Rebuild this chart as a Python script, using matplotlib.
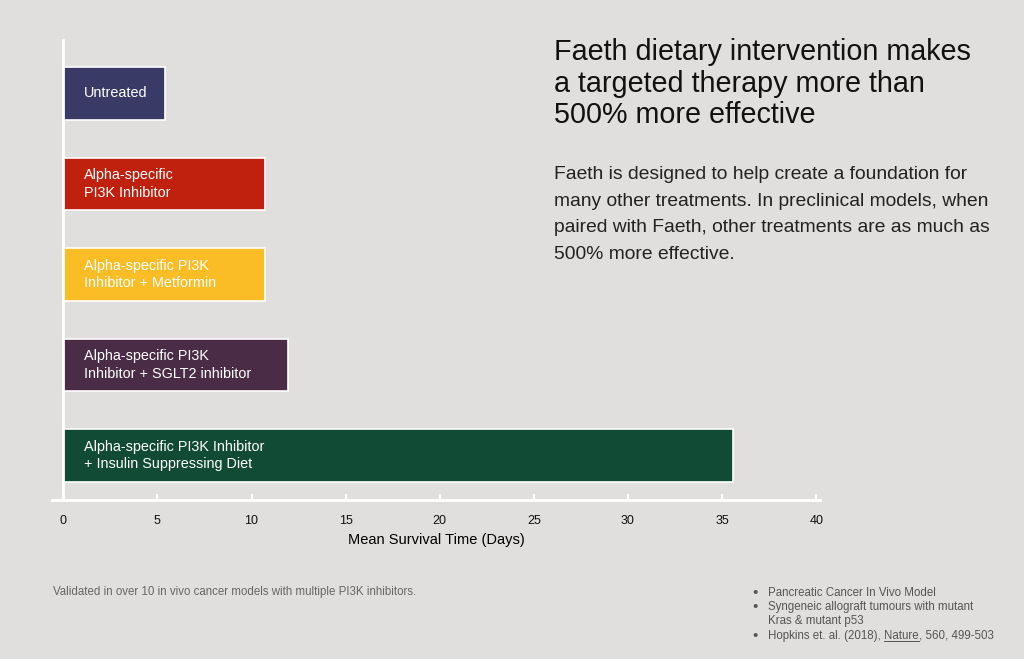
import matplotlib.pyplot as plt

plt.rcParams['font.family'] = ['Liberation Sans', 'DejaVu Sans']

# data
labels = ['Untreated',
          'Alpha-specific\nPI3K Inhibitor',
          'Alpha-specific PI3K\nInhibitor + Metformin',
          'Alpha-specific PI3K\nInhibitor + SGLT2 inhibitor',
          'Alpha-specific PI3K Inhibitor\n+ Insulin Suppressing Diet']
days = [5.4, 10.7, 10.7, 11.95, 35.6]
colors = ['#3a3a66', '#c0200e', '#fbbd26', '#4a2c46', '#114a35']
xticks = [0, 5, 10, 15, 20, 25, 30, 35, 40]

bg = '#e0dfdd'
fig = plt.figure(figsize=(10.24, 6.59), dpi=100, facecolor=bg)
ax = fig.add_axes([52/1024, 1-500/659, (820-52)/1024, 460/659])
ax.set_facecolor(bg)

ypos = list(range(len(days)-1, -1, -1))
ax.barh(ypos, days, height=0.58, color=colors, edgecolor='white', linewidth=1.2)
for y, lab in zip(ypos, labels):
    ax.text(1.1, y, lab, color='white', fontsize=10.4, va='center', ha='left',
            linespacing=1.3)

ax.set_xlim(-0.6, 40.2)
ax.set_ylim(-0.49, 4.59)
ax.spines['left'].set_position(('data', 0))
for s in ['top', 'right']:
    ax.spines[s].set_visible(False)
ax.spines['left'].set_color('white')
ax.spines['bottom'].set_color('white')
ax.spines['left'].set_linewidth(2)
ax.spines['bottom'].set_linewidth(2)
ax.set_yticks([])
ax.set_xticks(xticks)
ax.tick_params(axis='x', direction='in', color='white', width=1.5, length=4,
               labelsize=9, pad=11, labelcolor='#111111')
ax.set_xlabel('Mean Survival Time (Days)', fontsize=10.5, labelpad=4)

fig.text(554/1024, 1-38/659,
         'Faeth dietary intervention makes\na targeted therapy more than\n500% more effective',
         fontsize=20.7, va='top', ha='left', color='#111111', linespacing=1.17)
fig.text(554/1024, 1-166/659,
         'Faeth is designed to help create a foundation for\n'
         'many other treatments. In preclinical models, when\n'
         'paired with Faeth, other treatments are as much as\n'
         '500% more effective.',
         fontsize=13.9, va='top', ha='left', color='#222222', linespacing=1.75)

fig.text(53/1024, 1-592/659,
         'Validated in over 10 in vivo cancer models with multiple PI3K inhibitors.',
         fontsize=8.3, va='center', ha='left', color='#666666')

fs = 8.3
col = '#555555'
bullet_y = [593, 607, 636]
for yy in bullet_y:
    fig.text(755/1024, 1-yy/659, '•', fontsize=11, va='center', ha='center', color=col)
fig.text(768/1024, 1-593/659, 'Pancreatic Cancer In Vivo Model', fontsize=fs, va='center', color=col)
fig.text(768/1024, 1-607/659, 'Syngeneic allograft tumours with mutant', fontsize=fs, va='center', color=col)
fig.text(768/1024, 1-621/659, 'Kras & mutant p53', fontsize=fs, va='center', color=col)
t1 = fig.text(768/1024, 1-636/659, 'Hopkins et. al. (2018), ', fontsize=fs, va='center', color=col)
fig.canvas.draw()
r = fig.canvas.get_renderer()
bb = t1.get_window_extent(r)
t2 = fig.text(bb.x1/1024, 1-636/659, 'Nature', fontsize=fs, va='center', color=col)
bb2 = t2.get_window_extent(r)
fig.add_artist(plt.Line2D([bb2.x0/1024, bb2.x1/1024], [(bb2.y0+1)/659]*2,
                          color=col, linewidth=0.7))
fig.text(bb2.x1/1024, 1-636/659, ', 560, 499-503', fontsize=fs, va='center', color=col)

fig.savefig('out.png', dpi=100, facecolor=bg)
